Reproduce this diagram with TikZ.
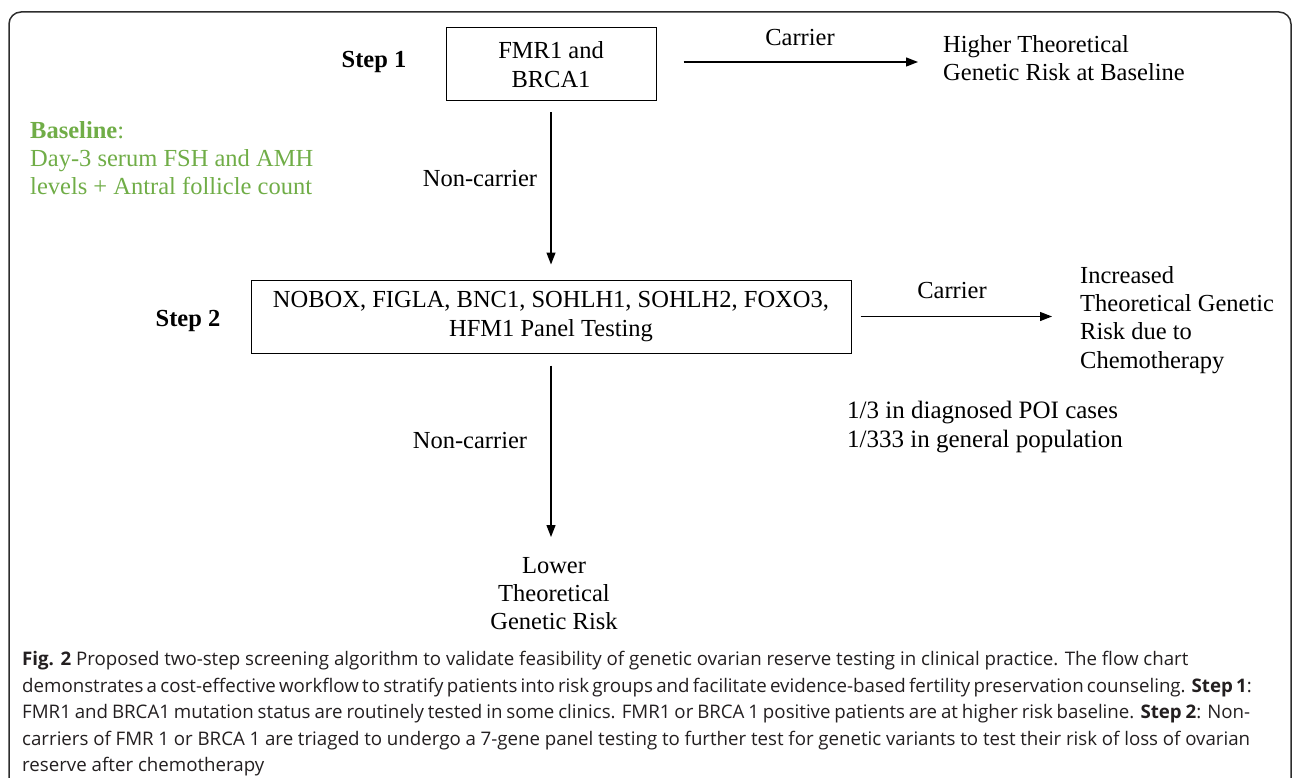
\documentclass[tikz,border=0pt]{standalone}
\usepackage{fontspec}
\setmainfont{Liberation Serif}
\newfontfamily\capfont{Open Sans}
\usetikzlibrary{arrows.meta}
\definecolor{basegreen}{RGB}{112,173,71}
\definecolor{framegray}{RGB}{45,45,45}
\definecolor{captext}{RGB}{35,31,32}
\tikzset{
  txt/.style={inner sep=0pt, font=\fontsize{24.5}{28.3}\selectfont, align=left},
  ctxt/.style={txt, align=center},
  stepl/.style={inner sep=0pt, font=\fontsize{24.5}{28.3}\selectfont\bfseries},
  boxn/.style={draw, line width=1pt, inner sep=0pt, align=center, font=\fontsize{24.5}{28.3}\selectfont},
  arr/.style={-{Triangle[length=12pt,width=9pt]}, line width=1.3pt},
}
\newcommand{\capline}[1]{\makebox[1228pt][s]{#1}}
\begin{document}
\begin{tikzpicture}[x=1pt,y=-1pt]
\useasboundingbox (0,0) rectangle (1293,778);
% frame
\begin{scope}
\clip (0,0) rectangle (1293,778);
\draw[framegray, line width=1.5pt, rounded corners=12pt] (9,800) -- (9,12) -- (1291,12) -- (1291,800);
\end{scope}
% step labels
\node[stepl] (s1) at (374,62) {Step 1};
\node[stepl] (s2) at (188,321) {Step 2};
% boxes
\node[boxn, minimum width=210pt, minimum height=73pt] (b1) at (551,64.5) {FMR1 and\\BRCA1};
\node[boxn, minimum width=600pt, minimum height=73pt] (b2) at (551,316.5) {NOBOX, FIGLA, BNC1, SOHLH1, SOHLH2, FOXO3,\\HFM1 Panel Testing};
% outcome texts
\node[txt, anchor=north west] (high) at (943,35) {Higher Theoretical\\Genetic Risk at Baseline};
\node[txt, anchor=north west] (inc) at (1080,266) {Increased\\Theoretical Genetic\\Risk due to\\Chemotherapy};
\node[txt, anchor=north west, font=\fontsize{25}{28.5}\selectfont] (freq) at (847,401) {1/3 in diagnosed POI cases\\1/333 in general population};
\node[ctxt, anchor=north] (low) at (554,557) {Lower\\Theoretical\\Genetic Risk};
% baseline
\node[txt, anchor=north west, text=basegreen] (base) at (30,121) {\textbf{Baseline}:\\Day-3 serum FSH and AMH\\levels + Antral follicle count};
% arrows
\draw[arr, shorten <=27pt, shorten >=25pt] ([yshift=2.5pt]b1.east) -- ([yshift=2.5pt]b1.east -| high.west);
\draw[arr, shorten <=11pt, shorten >=15pt] (b1.south) -- (b2.north);
\draw[arr, shorten <=9pt, shorten >=28pt] (b2.east) -- (b2.east -| inc.west);
\draw[arr, shorten <=12pt, shorten >=20pt] (b2.south) -- (b2.south |- low.north);
% arrow labels
\node[txt] (c1) at (800,38) {Carrier};
\node[txt] (c2) at (952,291) {Carrier};
\node[txt] (n1) at (480,179) {Non-carrier};
\node[txt] (n2) at (470,441) {Non-carrier};
% caption
\node[inner sep=0pt, anchor=north west, align=left, text=captext, font=\capfont\fontsize{18.7}{26.6}\selectfont] (cap) at (22,651) {\textbf{Fig. 2} Proposed two-step screening algorithm to validate feasibility of genetic ovarian reserve testing in clinical practice. The flow chart\\
\capline{demonstrates a cost-effective workflow to stratify patients into risk groups and facilitate evidence-based fertility preservation counseling. \textbf{Step 1}:}\\
\capline{FMR1 and BRCA1 mutation status are routinely tested in some clinics. FMR1 or BRCA 1 positive patients are at higher risk baseline. \textbf{Step 2}: Non-}\\
\capline{carriers of FMR 1 or BRCA 1 are triaged to undergo a 7-gene panel testing to further test for genetic variants to test their risk of loss of ovarian}\\
reserve after chemotherapy};
\end{tikzpicture}
\end{document}
